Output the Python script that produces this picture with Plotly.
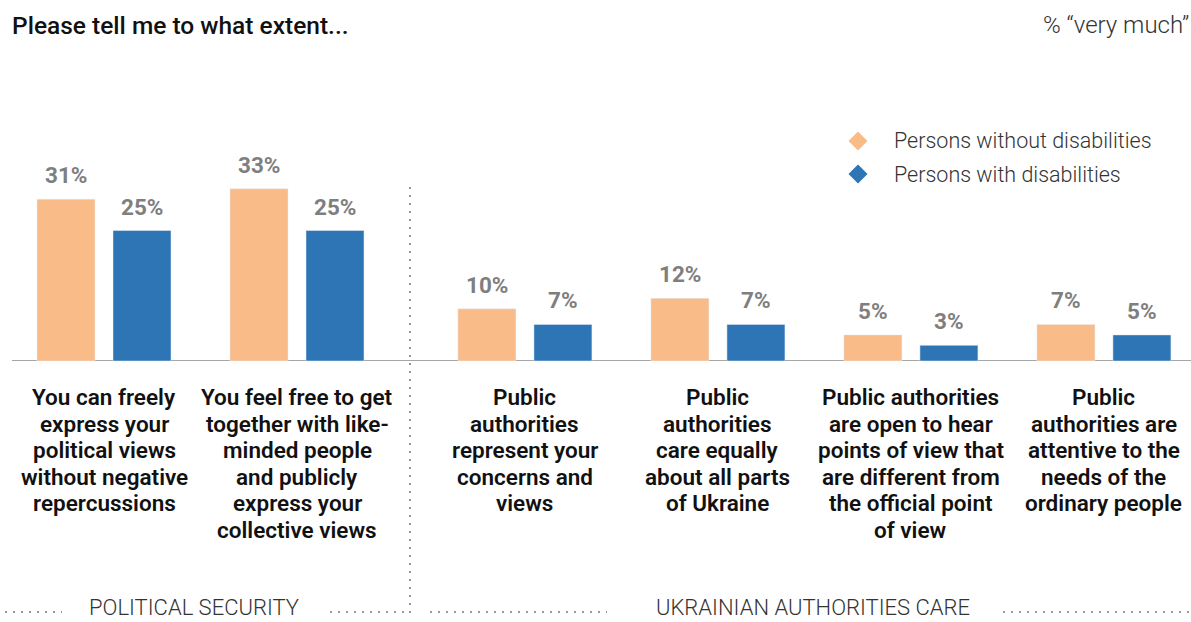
import plotly.graph_objects as go

# Survey items (category labels, one entry per printed line) and their sections
categories = [
    ["You can freely", "express your", "political views", "without negative", "repercussions"],
    ["You feel free to get", "together with like-", "minded people", "and publicly", "express your", "collective views"],
    ["Public", "authorities", "represent your", "concerns and", "views"],
    ["Public", "authorities", "care equally", "about all parts", "of Ukraine"],
    ["Public authorities", "are open to hear", "points of view that", "are different from", "the official point", "of view"],
    ["Public", "authorities are", "attentive to the", "needs of the", "ordinary people"],
]
sections = ["POLITICAL SECURITY", "POLITICAL SECURITY",
            "UKRAINIAN AUTHORITIES CARE", "UKRAINIAN AUTHORITIES CARE",
            "UKRAINIAN AUTHORITIES CARE", "UKRAINIAN AUTHORITIES CARE"]

# % "very much"
without_disab = [31, 33, 10, 12, 5, 7]
with_disab = [25, 25, 7, 7, 3, 5]

series_names = ["Persons without disabilities", "Persons with disabilities"]
ORANGE = "#f9bb87"
BLUE = "#2e75b6"
LABEL_GREY = "#7f7f7f"

W, H = 1191, 622
PLOT_TOP, PLOT_BOTTOM = 150, 361  # pixel rows of the plotting area

# group positions: one unit per item, with extra room between sections
SECTION_GAP = 0.181
pos = []
for i, s in enumerate(sections):
    extra = SECTION_GAP if s != sections[0] else 0.0
    pos.append(i + extra)

UNIT_PX = 193.0
X0 = -104 / UNIT_PX
X1 = X0 + W / UNIT_PX
BAR_W = 58 / UNIT_PX
HALF_SEP = 38 / UNIT_PX
Y_MAX = (PLOT_BOTTOM - PLOT_TOP) / 5.22


def fx(px):
    return px / W


def fy(py):
    return (PLOT_BOTTOM - py) / (PLOT_BOTTOM - PLOT_TOP)


fig = go.Figure()
fig.add_trace(go.Bar(x=pos, y=without_disab, name=series_names[0],
                     marker_color=ORANGE, width=BAR_W,
                     offset=-HALF_SEP - BAR_W / 2, showlegend=False))
fig.add_trace(go.Bar(x=pos, y=with_disab, name=series_names[1],
                     marker_color=BLUE, width=BAR_W,
                     offset=HALF_SEP - BAR_W / 2, showlegend=False))

annotations = []
font_main = "Roboto, Arial, sans-serif"

# value labels above bars
for p, v1, v2 in zip(pos, without_disab, with_disab):
    for xx, v in ((p - HALF_SEP, v1), (p + HALF_SEP, v2)):
        annotations.append(dict(
            x=xx, y=v, xref="x", yref="y", text=f"{v}%", showarrow=False,
            yanchor="bottom", yshift=9,
            font=dict(family=font_main, size=22.5, color=LABEL_GREY, weight=700)))

# category labels under the axis, laid out line by line
LINE_STEP = 26.6
FIRST_LINE = 397
for p, lines in zip(pos, categories):
    for j, line in enumerate(lines):
        annotations.append(dict(
            x=p, y=fy(FIRST_LINE + j * LINE_STEP), xref="x", yref="paper",
            text=line, showarrow=False, xanchor="center", yanchor="middle",
            font=dict(family=font_main, size=22.5, color="#111111", weight=600)))

# section labels
sec_names = list(dict.fromkeys(sections))
sec_centers_px = [194, 813]
for name, cx in zip(sec_names, sec_centers_px):
    annotations.append(dict(
        x=fx(cx), y=fy(H), xref="paper", yref="paper", text=name,
        showarrow=False, xanchor="center", yanchor="bottom",
        font=dict(family=font_main, size=22, color="#333333", weight=300)))

# title and unit note
annotations.append(dict(
    x=fx(10), y=fy(25), xref="paper", yref="paper",
    text="Please tell me to what extent...", showarrow=False,
    xanchor="left", yanchor="middle",
    font=dict(family=font_main, size=24.5, color="#111111", weight=500)))
annotations.append(dict(
    x=fx(1191), y=fy(25), xref="paper", yref="paper",
    text="% \u201cvery much\u201d", showarrow=False,
    xanchor="right", yanchor="middle",
    font=dict(family=font_main, size=24, color="#333333", weight=300)))

# legend entries
shapes = []
legend_rows = [(141, ORANGE), (174, BLUE)]
for (ly, col), name in zip(legend_rows, series_names):
    cx, r = 858, 9.5
    path = (f"M {fx(cx)} {fy(ly - r)} L {fx(cx + r)} {fy(ly)} "
            f"L {fx(cx)} {fy(ly + r)} L {fx(cx - r)} {fy(ly)} Z")
    shapes.append(dict(type="path", xref="paper", yref="paper", path=path,
                       fillcolor=col, line=dict(width=0)))
    annotations.append(dict(
        x=fx(892), y=fy(ly), xref="paper", yref="paper", text=name,
        showarrow=False, xanchor="left", yanchor="middle",
        font=dict(family=font_main, size=21.5, color="#333333", weight=300)))

# baseline
shapes.append(dict(type="line", xref="paper", yref="y", x0=fx(12), x1=1,
                   y0=0, y1=0, line=dict(color="#a6a6a6", width=2),
                   layer="below"))

# section separator and dotted rules around section labels
dot = "2px,6px"
shapes.append(dict(type="line", xref="paper", yref="paper",
                   x0=fx(410), x1=fx(410), y0=fy(187), y1=fy(613),
                   line=dict(color="#999999", width=2, dash=dot)))
for a, b in [(5, 62), (330, 405), (430, 607), (1003, 1191)]:
    shapes.append(dict(type="line", xref="paper", yref="paper",
                       x0=fx(a), x1=fx(b), y0=fy(612), y1=fy(612),
                       line=dict(color="#999999", width=2, dash=dot)))

fig.update_layout(
    width=W, height=H,
    margin=dict(l=0, r=0, t=PLOT_TOP, b=H - PLOT_BOTTOM, pad=0),
    paper_bgcolor="white", plot_bgcolor="white",
    barmode="overlay",
    xaxis=dict(range=[X0, X1], visible=False, fixedrange=True),
    yaxis=dict(range=[0, Y_MAX], visible=False, fixedrange=True),
    annotations=annotations, shapes=shapes,
    showlegend=False,
)

fig.write_html("out.html")
